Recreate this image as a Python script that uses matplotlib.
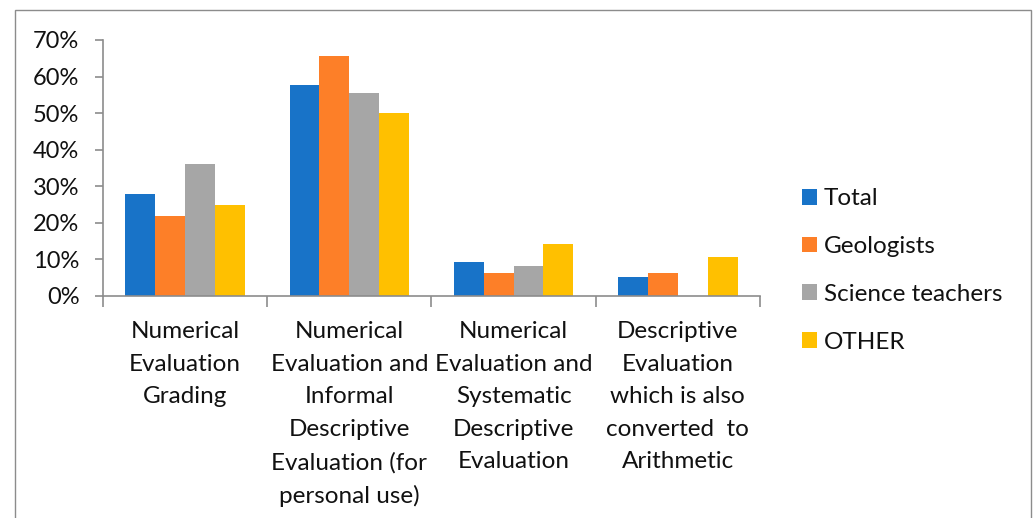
import numpy as np
import matplotlib.pyplot as plt
from matplotlib.patches import Rectangle
from matplotlib.ticker import PercentFormatter, MultipleLocator

categories = [
    "Numerical\nEvaluation\nGrading",
    "Numerical\nEvaluation and\nInformal\nDescriptive\nEvaluation (for\npersonal use)",
    "Numerical\nEvaluation and\nSystematic\nDescriptive\nEvaluation",
    "Descriptive\nEvaluation\nwhich is also\nconverted  to\nArithmetic",
]
series_names = ["Total", "Geologists", "Science teachers", "OTHER"]
total = [27.8, 57.7, 9.2, 5.1]
geologists = [21.8, 65.6, 6.2, 6.2]
science_teachers = [36.1, 55.5, 8.2, 0.0]
other = [24.9, 50.0, 14.2, 10.7]
colors = ["#1873C8", "#FD7F28", "#A6A6A6", "#FFC000"]

plt.rcParams["font.family"] = ["Lato", "DejaVu Sans"]

fig = plt.figure(figsize=(10.34, 5.18), dpi=100)
ax = fig.add_axes([0.0996, 0.4286, 0.6354, 0.4942])

x = np.arange(len(categories))
n = len(series_names)
width = 1.0 / (n + 1.5)
for i, (name, vals) in enumerate(zip(series_names, [total, geologists, science_teachers, other])):
    ax.bar(x + (i - (n - 1) / 2) * width, vals, width, color=colors[i], label=name)

ax.set_xlim(-0.5, len(categories) - 0.5)
ax.set_ylim(0, 70)
ax.yaxis.set_major_locator(MultipleLocator(10))
ax.yaxis.set_major_formatter(PercentFormatter(decimals=0))

# category labels sit between the boundary ticks
ax.set_xticks(np.arange(-0.5, len(categories)), minor=False)
ax.set_xticklabels([])
ax.set_xticks(x, minor=True)
ax.set_xticklabels(categories, minor=True, fontsize=17.5, linespacing=1.68, color="#111111")
ax.tick_params(axis="x", which="minor", length=0, pad=18)
ax.tick_params(axis="x", which="major", length=8, color="#8c8c8c", width=1.2)
ax.tick_params(axis="y", length=6, color="#8c8c8c", width=1.2, labelsize=17, labelcolor="#111111", pad=11)
for lab in ax.get_xticklabels(minor=True):
    lab.set_verticalalignment("top")

for side in ["top", "right"]:
    ax.spines[side].set_visible(False)
for side in ["left", "bottom"]:
    ax.spines[side].set_color("#8c8c8c")
    ax.spines[side].set_linewidth(1.2)

fig.legend(loc="center left", bbox_to_anchor=(0.754, 0.4778), frameon=False, fontsize=17.5,
           handlelength=0.62, handleheight=0.62, handletextpad=0.3, labelspacing=1.1,
           labelcolor="#111111")

fig.patches.append(Rectangle((15 / 1034, -0.02), 1016 / 1034, 1.0 - 10 / 518 + 0.02,
                             transform=fig.transFigure, fill=False, edgecolor="#8c8c8c", lw=1))

fig.savefig("out.png", dpi=100)
